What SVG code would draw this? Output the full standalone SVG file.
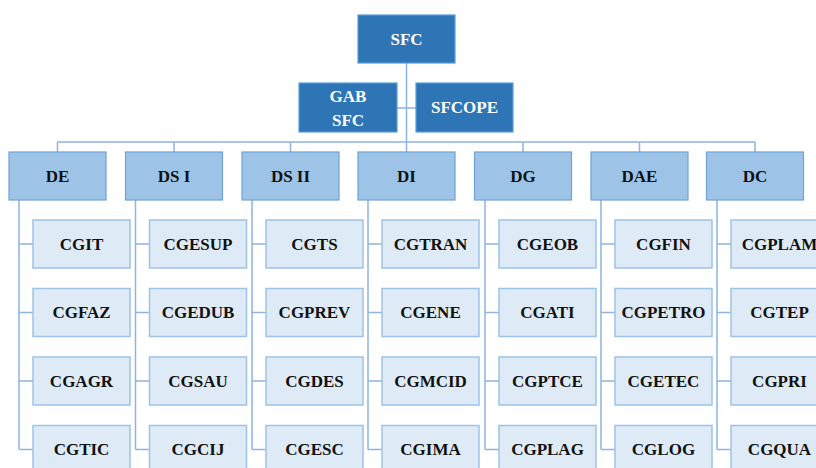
<svg xmlns="http://www.w3.org/2000/svg" width="816" height="468" viewBox="0 0 816 468">
<style>
text{font-family:"Liberation Serif","Times New Roman",serif;font-weight:bold;font-size:17px;text-anchor:middle;dominant-baseline:central}
.top rect{fill:#2E75B6;stroke:#5B9BD5;stroke-width:1.2}
.top text{fill:#fff}
.l2 rect{fill:#9DC3E6;stroke:#6FA3D6;stroke-width:1.2}
.l3 rect{fill:#DEEBF7;stroke:#9DC3E6;stroke-width:1.5}
.l2 text,.l3 text{fill:#111}
.c{fill:none;stroke:#8FB4DE;stroke-width:1.5}
</style>
<rect width="816" height="468" fill="#fff"/>
<g id="connectors" class="c">
<path d="M406.5 63V152M397 108H416M57.5 142H755M57.5 142V152M174 142V152M290.5 142V152M523 142V152M639.5 142V152M755 142V152"/>
<path d="M19 200V449.5M19 244H33M19 312.5H33M19 381H33M19 449.5H33"/>
<path d="M135.5 200V449.5M135.5 244H149.5M135.5 312.5H149.5M135.5 381H149.5M135.5 449.5H149.5"/>
<path d="M252 200V449.5M252 244H266M252 312.5H266M252 381H266M252 449.5H266"/>
<path d="M368 200V449.5M368 244H382M368 312.5H382M368 381H382M368 449.5H382"/>
<path d="M485 200V449.5M485 244H499M485 312.5H499M485 381H499M485 449.5H499"/>
<path d="M601 200V449.5M601 244H615M601 312.5H615M601 381H615M601 449.5H615"/>
<path d="M717 200V449.5M717 244H731M717 312.5H731M717 381H731M717 449.5H731"/>
</g>
<g id="SFC" class="top"><rect x="358" y="15" width="97" height="48"/><text x="406.5" y="39.5">SFC</text></g>
<g id="GABSFC" class="top"><rect x="299" y="83" width="98" height="49"/><text x="348" y="96">GAB</text><text x="348" y="120">SFC</text></g>
<g id="SFCOPE" class="top"><rect x="416" y="83" width="97" height="49"/><text x="464.5" y="107.5">SFCOPE</text></g>

<g id="DE" class="l2"><rect x="9" y="152" width="97" height="48"/><text x="57.5" y="176">DE</text></g>
<g id="DSI" class="l2"><rect x="125.5" y="152" width="97" height="48"/><text x="174" y="176">DS I</text></g>
<g id="DSII" class="l2"><rect x="242" y="152" width="97" height="48"/><text x="290.5" y="176">DS II</text></g>
<g id="DI" class="l2"><rect x="358" y="152" width="97" height="48"/><text x="406.5" y="176">DI</text></g>
<g id="DG" class="l2"><rect x="474.5" y="152" width="97" height="48"/><text x="523" y="176">DG</text></g>
<g id="DAE" class="l2"><rect x="591" y="152" width="97" height="48"/><text x="639.5" y="176">DAE</text></g>
<g id="DC" class="l2"><rect x="706.5" y="152" width="97" height="48"/><text x="755" y="176">DC</text></g>

<g id="CGIT" class="l3"><rect x="33" y="220" width="97" height="48"/><text x="81.5" y="244">CGIT</text></g>
<g id="CGFAZ" class="l3"><rect x="33" y="288.5" width="97" height="48"/><text x="81.5" y="312.5">CGFAZ</text></g>
<g id="CGAGR" class="l3"><rect x="33" y="357" width="97" height="48"/><text x="81.5" y="381">CGAGR</text></g>
<g id="CGTIC" class="l3"><rect x="33" y="425.5" width="97" height="48"/><text x="81.5" y="449.5">CGTIC</text></g>

<g id="CGESUP" class="l3"><rect x="149.5" y="220" width="97" height="48"/><text x="198" y="244">CGESUP</text></g>
<g id="CGEDUB" class="l3"><rect x="149.5" y="288.5" width="97" height="48"/><text x="198" y="312.5">CGEDUB</text></g>
<g id="CGSAU" class="l3"><rect x="149.5" y="357" width="97" height="48"/><text x="198" y="381">CGSAU</text></g>
<g id="CGCIJ" class="l3"><rect x="149.5" y="425.5" width="97" height="48"/><text x="198" y="449.5">CGCIJ</text></g>

<g id="CGTS" class="l3"><rect x="266" y="220" width="97" height="48"/><text x="314.5" y="244">CGTS</text></g>
<g id="CGPREV" class="l3"><rect x="266" y="288.5" width="97" height="48"/><text x="314.5" y="312.5">CGPREV</text></g>
<g id="CGDES" class="l3"><rect x="266" y="357" width="97" height="48"/><text x="314.5" y="381">CGDES</text></g>
<g id="CGESC" class="l3"><rect x="266" y="425.5" width="97" height="48"/><text x="314.5" y="449.5">CGESC</text></g>

<g id="CGTRAN" class="l3"><rect x="382" y="220" width="97" height="48"/><text x="430.5" y="244">CGTRAN</text></g>
<g id="CGENE" class="l3"><rect x="382" y="288.5" width="97" height="48"/><text x="430.5" y="312.5">CGENE</text></g>
<g id="CGMCID" class="l3"><rect x="382" y="357" width="97" height="48"/><text x="430.5" y="381">CGMCID</text></g>
<g id="CGIMA" class="l3"><rect x="382" y="425.5" width="97" height="48"/><text x="430.5" y="449.5">CGIMA</text></g>

<g id="CGEOB" class="l3"><rect x="499" y="220" width="97" height="48"/><text x="547.5" y="244">CGEOB</text></g>
<g id="CGATI" class="l3"><rect x="499" y="288.5" width="97" height="48"/><text x="547.5" y="312.5">CGATI</text></g>
<g id="CGPTCE" class="l3"><rect x="499" y="357" width="97" height="48"/><text x="547.5" y="381">CGPTCE</text></g>
<g id="CGPLAG" class="l3"><rect x="499" y="425.5" width="97" height="48"/><text x="547.5" y="449.5">CGPLAG</text></g>

<g id="CGFIN" class="l3"><rect x="615" y="220" width="97" height="48"/><text x="663.5" y="244">CGFIN</text></g>
<g id="CGPETRO" class="l3"><rect x="615" y="288.5" width="97" height="48"/><text x="663.5" y="312.5">CGPETRO</text></g>
<g id="CGETEC" class="l3"><rect x="615" y="357" width="97" height="48"/><text x="663.5" y="381">CGETEC</text></g>
<g id="CGLOG" class="l3"><rect x="615" y="425.5" width="97" height="48"/><text x="663.5" y="449.5">CGLOG</text></g>

<g id="CGPLAM" class="l3"><rect x="731" y="220" width="97" height="48"/><text x="779.5" y="244">CGPLAM</text></g>
<g id="CGTEP" class="l3"><rect x="731" y="288.5" width="97" height="48"/><text x="779.5" y="312.5">CGTEP</text></g>
<g id="CGPRI" class="l3"><rect x="731" y="357" width="97" height="48"/><text x="779.5" y="381">CGPRI</text></g>
<g id="CGQUA" class="l3"><rect x="731" y="425.5" width="97" height="48"/><text x="779.5" y="449.5">CGQUA</text></g>
</svg>
